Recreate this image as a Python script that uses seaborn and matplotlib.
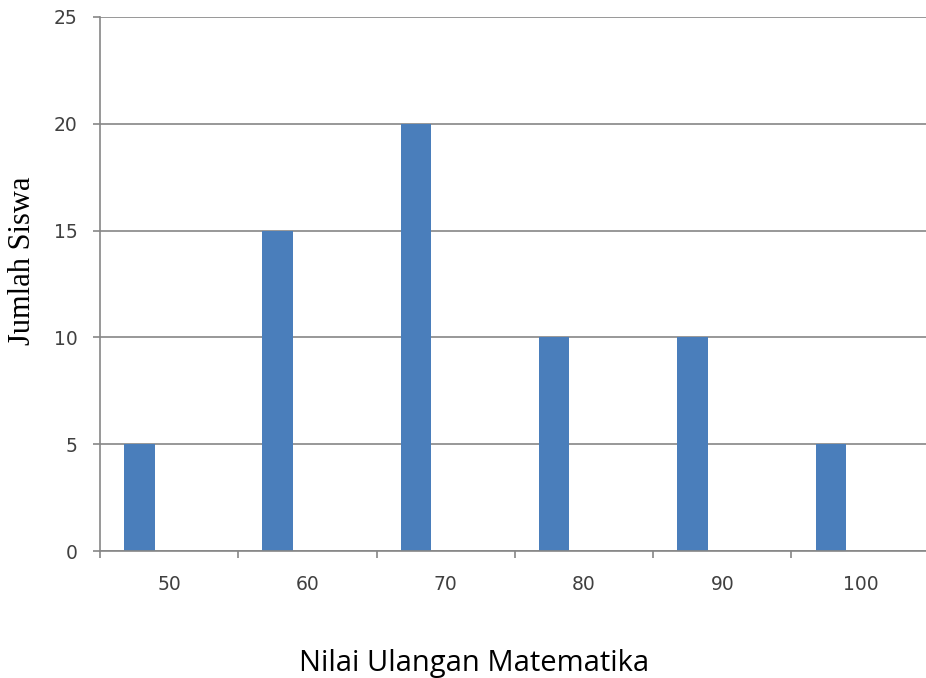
import numpy as np
import pandas as pd
import matplotlib
matplotlib.use("Agg")
import matplotlib.pyplot as plt
import seaborn as sns

# data
nilai = ["50", "60", "70", "80", "90", "100"]
jumlah = [5, 15, 20, 10, 10, 5]

df = pd.DataFrame({"nilai": nilai, "jumlah": jumlah})

sns.set_style("white")
fig = plt.figure(figsize=(9.26, 6.78), dpi=100)
ax = fig.add_axes([0.108, 0.1873, 0.896, 0.7878])

sns.barplot(data=df, x="nilai", y="jumlah", color="#4A7EBB", saturation=1,
            width=0.22, ax=ax)

# Excel-style: bars sit in the left part of each category slot
for p in ax.patches:
    p.set_x(p.get_x() - 0.215)
    p.set_edgecolor("none")

ax.set_xlim(-0.5, len(nilai) - 0.5)
ax.set_ylim(0, 25)
ax.set_yticks([0, 5, 10, 15, 20, 25])

# gridlines
ax.yaxis.grid(True, color="#868686", linewidth=1.2)
ax.set_axisbelow(True)

for s in ["top", "right"]:
    ax.spines[s].set_visible(False)
for s in ["left", "bottom"]:
    ax.spines[s].set_color("#868686")
    ax.spines[s].set_linewidth(1.2)

# category tick marks between slots, labels at slot centres
ax.set_xticks(np.arange(len(nilai)))
ax.set_xticklabels(nilai)
ax.set_xticks(np.arange(len(nilai) + 1) - 0.5, minor=True)
ax.tick_params(axis="x", which="major", bottom=True, length=0, pad=17,
               labelsize=13.5, labelcolor="#404040")
ax.tick_params(axis="x", which="minor", bottom=True, length=5, width=1.2,
               color="#868686", direction="out")
ax.tick_params(axis="y", left=True, length=5, width=1.2, color="#868686",
               direction="out", pad=11, labelsize=13.5, labelcolor="#404040")

ax.set_xlabel("")
ax.set_ylabel("")
fig.text(0.512, 0.022, "Nilai Ulangan Matematika", fontsize=21,
         family="Open Sans", ha="center", va="center", color="black")
fig.text(0.024, 0.615, "Jumlah Siswa", fontsize=22, family="Liberation Serif",
         rotation=90, ha="center", va="center", color="black")

fig.savefig("out.png", dpi=100)
